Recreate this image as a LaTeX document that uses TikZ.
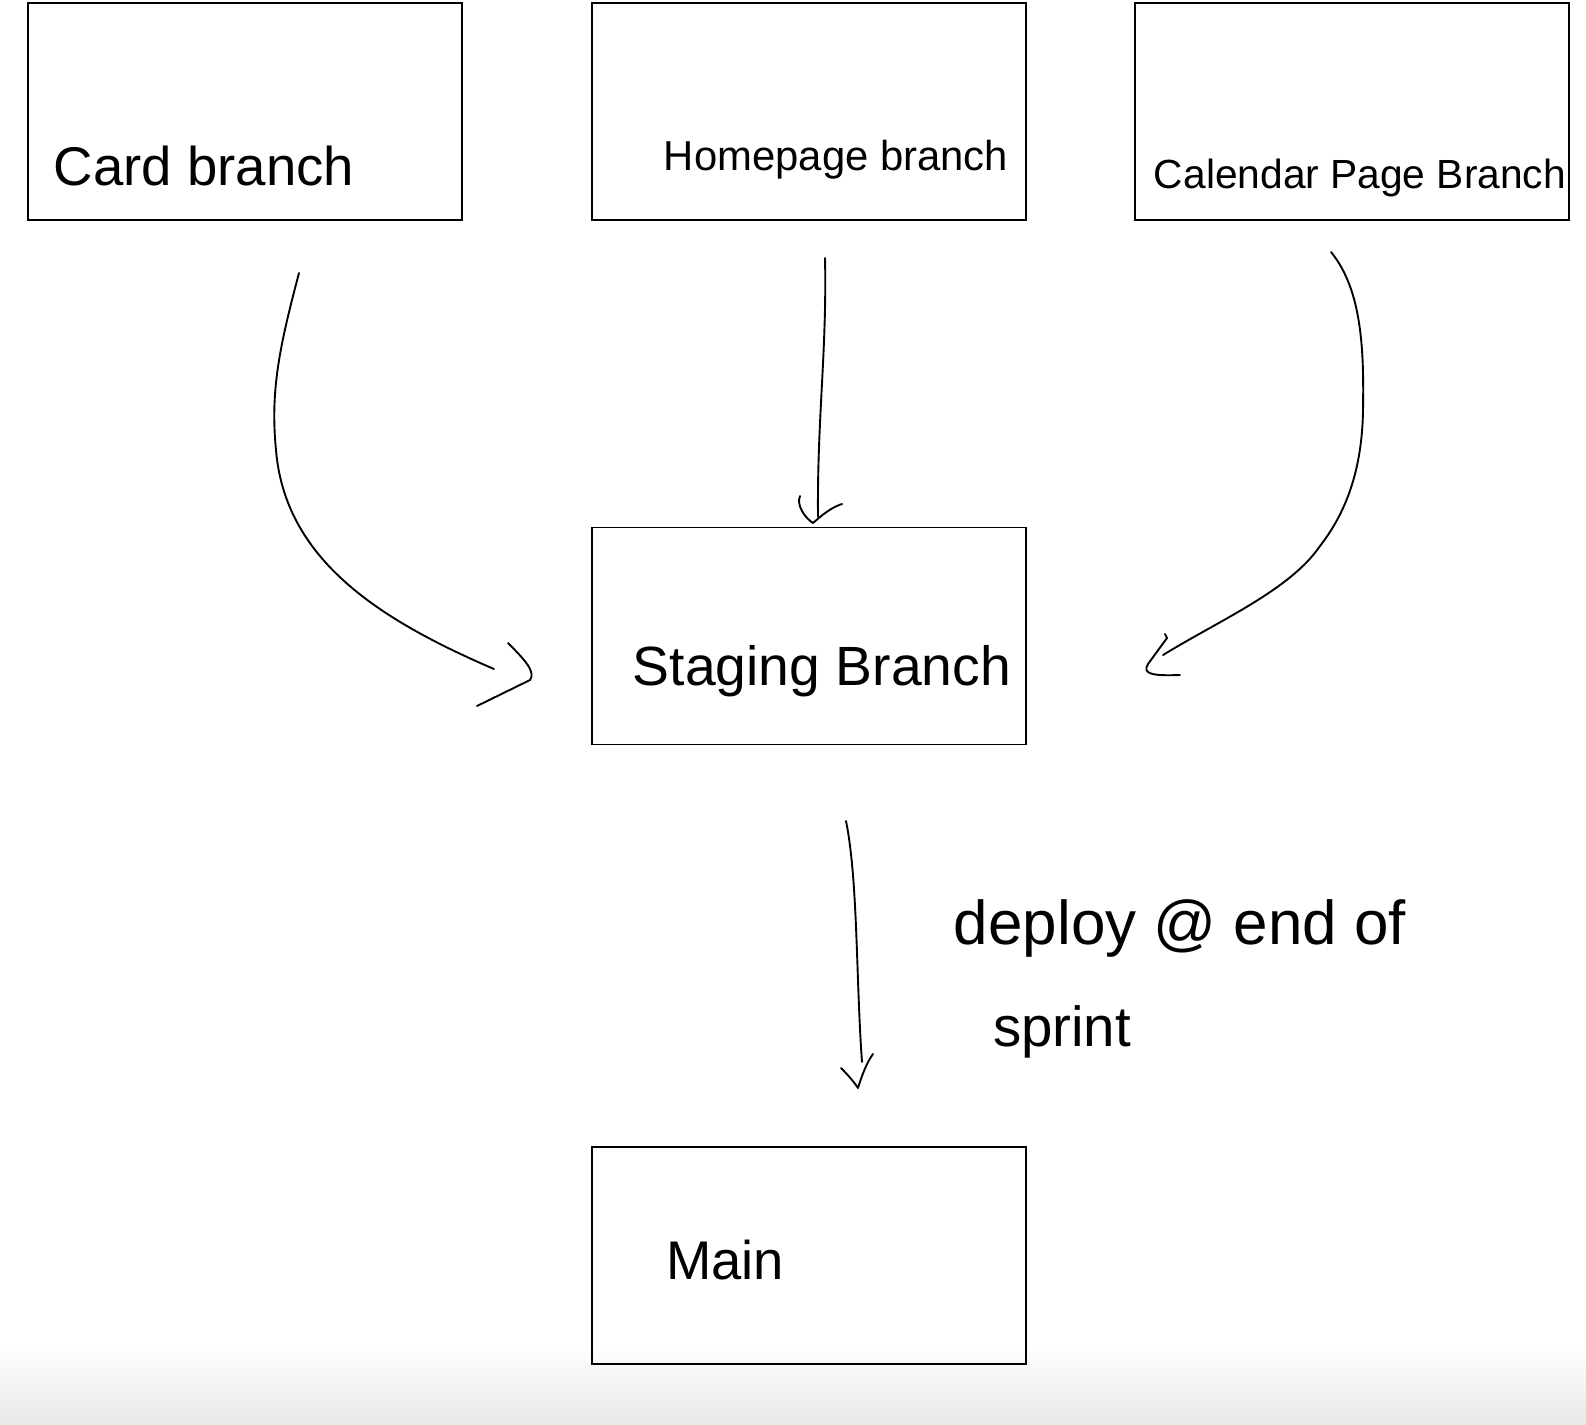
\documentclass[tikz,border=0pt]{standalone}
\usepackage{fontspec}
\usepackage{graphicx}
\setmainfont{Liberation Sans}
\tikzset{
  box/.style={draw=black, line width=1.8pt, rectangle, minimum width=434pt, minimum height=217pt, inner sep=0pt, outer sep=0pt},
  hand/.style={draw=black, line width=1.9pt, line cap=round, line join=round},
  txt/.style={inner sep=0pt, anchor=center}
}
\begin{document}
\begin{tikzpicture}[x=1pt,y=-1pt]
\useasboundingbox (0,0) rectangle (1586,1424);
\fill[white] (0,0) rectangle (1586,1424);
\shade[top color=white, bottom color=black!9] (0,1345) rectangle (1586,1424);

% boxes
\node[box] (card) at (245,111.5) {};
\node[box] (home) at (809,111.5) {};
\node[box] (cal) at (1352,111.5) {};
\node[box] (staging) at (809,636) {};
\node[box] (main) at (809,1255.5) {};

% texts
\node[txt] (tcard) at (204,166) {\resizebox{300pt}{!}{Card branch}};
\node[txt] (thome) at (836,160) {\resizebox{344pt}{!}{Homepage branch}};
\node[txt] (tcal) at (1360,178) {\resizebox{412pt}{!}{Calendar Page Branch}};
\node[txt] (tstag) at (822,671) {\resizebox{378pt}{!}{Staging Branch}};
\node[txt] (tdep) at (1180,928) {\resizebox{452pt}{!}{deploy @ end of}};
\node[txt] (tspr) at (1062,1032) {\resizebox{138pt}{!}{sprint}};
\node[txt] (tmain) at (725,1260) {\resizebox{118pt}{!}{Main}};

% connector end points
\coordinate (c1s) at (299,273);
\coordinate (c1e) at (494,669);
\coordinate (c2s) at (825,258);
\coordinate (c2e) at (818,517);
\coordinate (c3s) at (1331,252);
\coordinate (c3e) at (1163,655);
\coordinate (c4s) at (846,821);
\coordinate (c4e) at (862,1062);

% card -> staging
\draw[hand] (c1s) .. controls (280,345) and (270,390) .. (276,450)
  .. controls (285,560) and (380,620) .. (c1e);
\draw[hand] (508,643) .. controls (525,660) and (536,672) .. (530,680) -- (477,706);

% homepage -> staging
\draw[hand] (c2s) .. controls (827,350) and (817,420) .. (c2e);
\draw[hand] (800,496) .. controls (796,505) and (805,518) .. (813,523)
  .. controls (822,515) and (832,507) .. (842,504);

% calendar -> staging
\draw[hand] (c3s) .. controls (1362,290) and (1364,350) .. (1363,410)
  .. controls (1362,480) and (1340,520) .. (1320,546)
  .. controls (1290,590) and (1220,620) .. (c3e);
\draw[hand] (1165,634) -- (1167,638) -- (1148,664)
  .. controls (1142,674) and (1152,676) .. (1180,675);

% staging -> main
\draw[hand] (c4s) .. controls (858,880) and (856,980) .. (c4e);
\draw[hand] (841,1068) .. controls (848,1075) and (854,1082) .. (858,1088)
  .. controls (862,1075) and (867,1062) .. (873,1054);
\end{tikzpicture}
\end{document}
